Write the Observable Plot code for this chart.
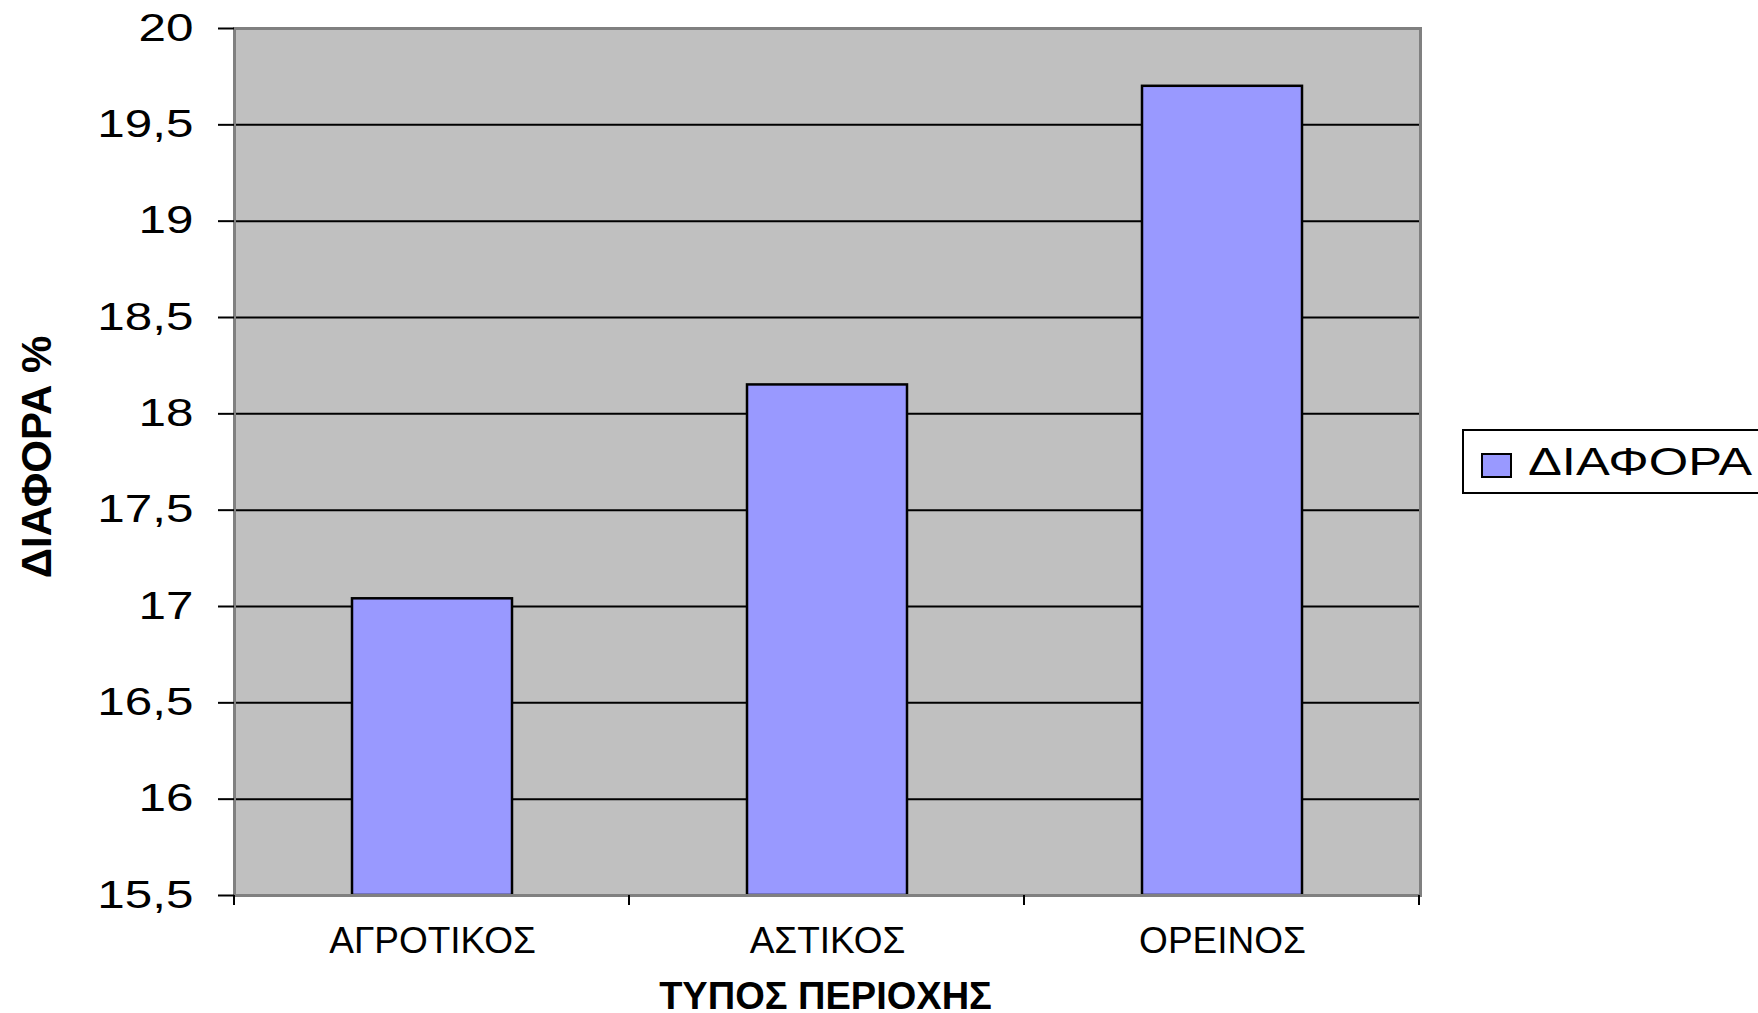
<!DOCTYPE html>
<html><head><meta charset="utf-8">
<script src="https://cdn.jsdelivr.net/npm/d3@7"></script>
<script src="https://cdn.jsdelivr.net/npm/@observablehq/plot@0.6"></script>
<style>
body{margin:0;background:#fff;font-family:"Liberation Sans",Arial,sans-serif;}
#wrap{position:relative;width:1758px;height:1013px;overflow:hidden;}
#legend{position:absolute;left:1462px;top:429px;height:61px;width:330px;border:2px solid #000;background:#fff;}
#legend .sw{position:absolute;left:17px;top:22px;width:27px;height:21px;background:#9999FF;border:2px solid #000;}
#legend .lb{position:absolute;left:64px;top:8px;font-size:39px;line-height:46px;color:#000;white-space:nowrap;transform:scaleX(1.3);transform-origin:left center;}
</style></head><body><div id="wrap"></div>
<script>
const categories = ["ΑΓΡΟΤΙΚΟΣ", "ΑΣΤΙΚΟΣ", "ΟΡΕΙΝΟΣ"];
const values = [17.04, 18.15, 19.70];
const yTicks = [15.5, 16, 16.5, 17, 17.5, 18, 18.5, 19, 19.5, 20];
const seriesName = "ΔΙΑΦΟΡΑ";
const xTitle = "ΤΥΠΟΣ ΠΕΡΙΟΧΗΣ";
const yTitle = "ΔΙΑΦΟΡΑ %";
const yMin = 15.5, yMax = 20;

const data = categories.map((c, i) => ({cat: c, value: values[i]}));
const fmt = d => String(d).replace(".", ",");

const chart = Plot.plot({
  width: 1758, height: 1013,
  marginLeft: 234, marginRight: 338, marginTop: 28, marginBottom: 118,
  style: {fontFamily: '"Liberation Sans", Arial, sans-serif', background: "#fff", color: "#000"},
  x: {domain: categories, paddingInner: 0.596, paddingOuter: 0.298},
  y: {domain: [yMin, yMax]},
  marks: [
    Plot.frame({fill: "#C0C0C0"}),
    Plot.gridY(yTicks.filter(t => t > yMin && t < yMax), {stroke: "#000", strokeOpacity: 1, strokeWidth: 2}),
    Plot.barY(data, {x: "cat", y1: d => yMin, y2: "value", fill: "#9999FF", stroke: "#000", strokeWidth: 2.5}),
    Plot.frame({stroke: "#808080", strokeWidth: 3}),
    Plot.axisY({ticks: yTicks, tickFormat: fmt, tickSize: 16, tickPadding: 25, fontSize: 38, line: true, stroke: "#000", strokeWidth: 2, label: null}),
    Plot.axisX({tickSize: 0, tickPadding: 31, fontSize: 37, line: true, stroke: "#000", strokeWidth: 2, label: null}),
    Plot.text([yTitle], {frameAnchor: "left", dx: -197, dy: -5, rotate: -90, textAnchor: "middle", fontSize: 42, fontWeight: "bold", lineAnchor: "middle"}),
    Plot.text([xTitle], {frameAnchor: "bottom", dy: 101, dx: -2, textAnchor: "middle", fontSize: 38, fontWeight: "bold", lineAnchor: "middle"})
  ]
});

// category boundary ticks on the x axis
const xs = chart.scale("x"), ys = chart.scale("y");
const yBase = ys.apply(yMin);
const g = d3.select(chart).append("g").attr("stroke", "#000").attr("stroke-width", 2);
for (let k = 0; k <= categories.length; k++) {
  const x = xs.range[0] + k * xs.step;
  g.append("line").attr("x1", x).attr("x2", x).attr("y1", yBase).attr("y2", yBase + 10);
}

const wrap = document.getElementById("wrap");
wrap.appendChild(chart);

// widen the y tick labels like the reference's stretched digits
d3.select(chart).selectAll('g[aria-label="y-axis tick label"] text').each(function() {
  const len = this.getComputedTextLength();
  this.setAttribute("textLength", len * 1.3);
  this.setAttribute("lengthAdjust", "spacingAndGlyphs");
});

const lg = document.createElement("div");
lg.id = "legend";
lg.innerHTML = '<span class="sw"></span><span class="lb"></span>';
lg.querySelector(".lb").textContent = seriesName;
wrap.appendChild(lg);
</script>
</body></html>
